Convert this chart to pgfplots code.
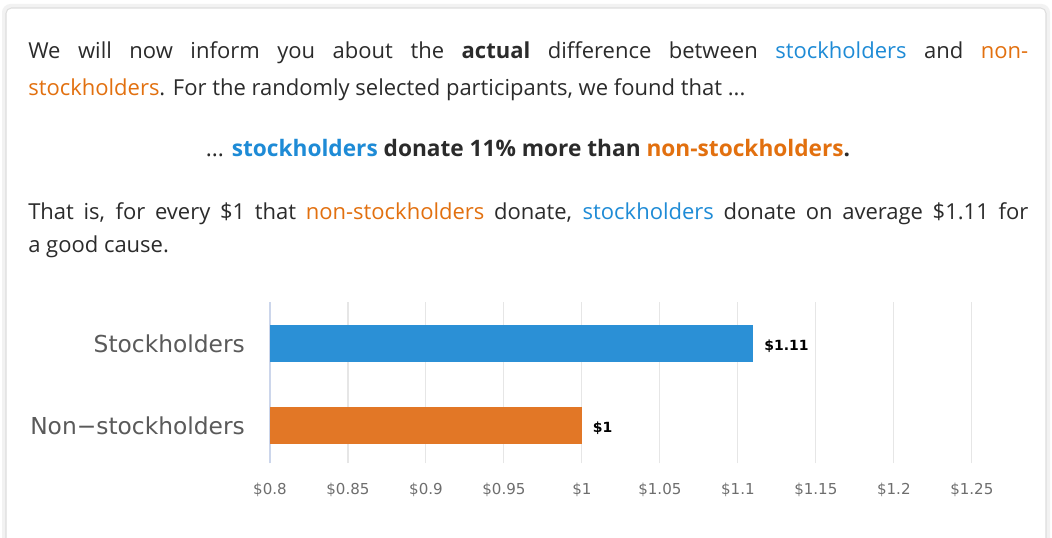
\documentclass[border=0pt]{standalone}
\usepackage{fontspec}
\setmainfont{Open Sans}
\newfontfamily\chartfont{DejaVu Sans}
\usepackage{pgfplots}
\pgfplotsset{compat=1.18}
\definecolor{txt}{HTML}{2B2B2B}
\definecolor{sblue}{HTML}{1E8BD6}
\definecolor{sorange}{HTML}{E2700F}
\definecolor{barblue}{HTML}{2B90D6}
\definecolor{barorange}{HTML}{E27726}
\definecolor{gridc}{HTML}{E6E6E6}
\definecolor{axisc}{HTML}{CCD6EB}
\definecolor{ticktxt}{HTML}{6E6E6E}
\definecolor{cattxt}{HTML}{5A5A5A}
\newcommand\bodyfont{\fontsize{16.5pt}{20pt}\selectfont}

\begin{document}
\begin{tikzpicture}[x=0.75pt,y=0.75pt]
\useasboundingbox (0,0) rectangle (1052,537);
\fill[white] (0,0) rectangle (1052,537);
% card
\begin{scope}
  \clip (0,0) rectangle (1052,537);
  \draw[black!5, line width=3pt, rounded corners=5] (4,-20) |- (1048,531) -- (1048,-20);
  \draw[black!13, line width=0.8pt, rounded corners=4] (6,-20) |- (1046,529) -- (1046,-20);
\end{scope}

% paragraphs
\begin{scope}[every node/.style={inner sep=0, text=txt, font=\bodyfont}]
  \node[anchor=base west] at (28,479) {\makebox[750pt][s]{We will now inform you about the \textbf{actual} difference between \textcolor{sblue}{stockholders} and \textcolor{sorange}{non-}}};
  \node[anchor=base west] at (28,442) {\textcolor{sorange}{stockholders}. For the randomly selected participants, we found that ...};
  \node[anchor=base, font=\fontsize{17pt}{20pt}\selectfont] at (528,381) {... \textbf{\textcolor{sblue}{stockholders} donate 11\% more than \textcolor{sorange}{non-stockholders}.}};
  \node[anchor=base west] at (28,318) {\makebox[750pt][s]{That is, for every \$1 that \textcolor{sorange}{non-stockholders} donate, \textcolor{sblue}{stockholders} donate on average \$1.11 for}};
  \node[anchor=base west] at (28,285) {a good cause.};
\end{scope}

\begin{axis}[
  at={(202.5pt,55.5pt)}, anchor=south west,
  scale only axis, width=549.75pt, height=120.75pt,
  xmin=0.8, xmax=1.27, ymin=-0.457, ymax=1.506,
  axis lines*=left,
  x axis line style={draw=none},
  y axis line style={axisc, line width=0.8pt},
  major tick length=0pt,
  xtick={0.8,0.85,0.9,0.95,1,1.05,1.1,1.15,1.2,1.25},
  xticklabels={\$0.8,\$0.85,\$0.9,\$0.95,\$1,\$1.05,\$1.1,\$1.15,\$1.2,\$1.25},
  ytick={0,1},
  yticklabels={Non−stockholders,Stockholders},
  xmajorgrids, grid style={gridc, line width=0.8pt},
  xticklabel style={font=\chartfont\fontsize{11.3pt}{13pt}\selectfont, text=ticktxt, anchor=center, inner sep=0, yshift=-20.25pt},
  yticklabel style={font=\chartfont\fontsize{17.5pt}{20pt}\selectfont, text=cattxt, anchor=east, inner sep=0, xshift=-18.75pt},
  nodes near coords={\$\pgfmathprintnumber[fixed,precision=2,assume math mode=true]{\pgfplotspointmeta}},
  nodes near coords align={horizontal},
  every node near coord/.append style={font=\chartfont\bfseries\fontsize{10.5pt}{12pt}\selectfont, text=black, anchor=west, inner sep=0, xshift=8pt, yshift=-2pt},
  point meta=x,
]
  \addplot[xbar, bar shift=0pt, bar width=27.75pt, fill=barblue, draw=none] coordinates {(1.11,1)};
  \addplot[xbar, bar shift=0pt, bar width=27.75pt, fill=barorange, draw=none] coordinates {(1,0)};
\end{axis}
\end{tikzpicture}
\end{document}
